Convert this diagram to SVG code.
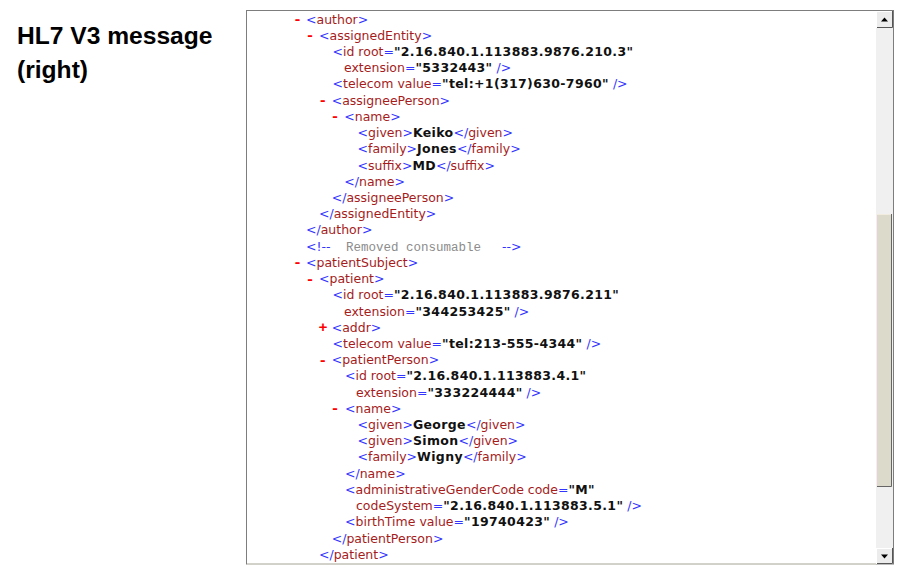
<svg xmlns="http://www.w3.org/2000/svg" width="900" height="573" viewBox="0 0 900 573">
<style>
.t{font-family:"Liberation Sans",Arial,sans-serif;font-weight:bold;font-size:24.6px;fill:#000}
.x{font-family:"DejaVu Sans",Verdana,sans-serif;font-size:12.5px;white-space:pre}
.b{fill:#3434ff}
.r{fill:#a51c1c}
.v{fill:#111;font-weight:bold;letter-spacing:0.35px}
.m{fill:#ff0000;font-family:"Liberation Mono","Courier New",monospace;font-weight:bold;font-size:15px;text-anchor:middle}
.c{fill:#8c8c8c;font-family:"Liberation Mono","Courier New",monospace;font-size:12.5px}
</style>
<rect width="900" height="573" fill="#fff"/>
<g id="title">
<text class="t" x="17" y="44">HL7 V3 message</text>
<text class="t" x="17" y="78">(right)</text>
</g>
<g id="panel">
<rect x="246.5" y="10.5" width="647" height="553.5" fill="#fff" stroke="#7d7d7d"/>
<line x1="247" y1="564" x2="876" y2="564" stroke="#e6e6d6"/>
<rect x="876" y="11" width="17" height="553" fill="#f0f0f0"/>
<g id="up">
<rect x="876.5" y="11.5" width="16" height="16" fill="#ececec" stroke="#ffffff"/>
<path d="M877 27.5H892.5V11" fill="none" stroke="#555"/>
<path d="M881 21.5L884.5 17.5L888 21.5Z" fill="#000"/>
</g>
<g id="thumb">
<rect x="877" y="214" width="15" height="273" fill="#dbdacb"/>
<line x1="877.5" y1="214" x2="877.5" y2="486" stroke="#e6d2d2"/>
<line x1="877" y1="214.5" x2="892" y2="214.5" stroke="#f2ebe0"/>
<path d="M877 486.5H891.5V214" fill="none" stroke="#666"/>
</g>
<g id="down">
<rect x="876.5" y="548.5" width="16" height="15" fill="#ececec" stroke="#ffffff"/>
<path d="M877 563.5H892.5V548" fill="none" stroke="#555"/>
<path d="M881 554.5L884.5 558.5L888 554.5Z" fill="#000"/>
</g>
</g>
<g id="xml" class="x">
<text class="m" x="297.5" y="24">-</text>
<text x="306" y="23.5"><tspan class="b">&lt;</tspan><tspan class="r">author</tspan><tspan class="b">&gt;</tspan></text>
<text class="m" x="310" y="40.2">-</text>
<text x="319" y="39.7"><tspan class="b">&lt;</tspan><tspan class="r">assignedEntity</tspan><tspan class="b">&gt;</tspan></text>
<text x="332.5" y="55.9"><tspan class="b">&lt;</tspan><tspan class="r">id root</tspan><tspan class="b">=</tspan><tspan class="v">"2.16.840.1.113883.9876.210.3"</tspan></text>
<text x="344" y="72.2"><tspan class="r">extension</tspan><tspan class="b">=</tspan><tspan class="v">"5332443"</tspan><tspan class="b"> /&gt;</tspan></text>
<text x="332.5" y="88.4"><tspan class="b">&lt;</tspan><tspan class="r">telecom value</tspan><tspan class="b">=</tspan><tspan class="v">"tel:+1(317)630-7960"</tspan><tspan class="b"> /&gt;</tspan></text>
<text class="m" x="322.7" y="105.1">-</text>
<text x="331.7" y="104.6"><tspan class="b">&lt;</tspan><tspan class="r">assigneePerson</tspan><tspan class="b">&gt;</tspan></text>
<text class="m" x="335" y="121.3">-</text>
<text x="344.3" y="120.8"><tspan class="b">&lt;</tspan><tspan class="r">name</tspan><tspan class="b">&gt;</tspan></text>
<text x="357.5" y="137"><tspan class="b">&lt;</tspan><tspan class="r">given</tspan><tspan class="b">&gt;</tspan><tspan class="v">Keiko</tspan><tspan class="b">&lt;/</tspan><tspan class="r">given</tspan><tspan class="b">&gt;</tspan></text>
<text x="357.5" y="153.3"><tspan class="b">&lt;</tspan><tspan class="r">family</tspan><tspan class="b">&gt;</tspan><tspan class="v">Jones</tspan><tspan class="b">&lt;/</tspan><tspan class="r">family</tspan><tspan class="b">&gt;</tspan></text>
<text x="357.5" y="169.5"><tspan class="b">&lt;</tspan><tspan class="r">suffix</tspan><tspan class="b">&gt;</tspan><tspan class="v">MD</tspan><tspan class="b">&lt;/</tspan><tspan class="r">suffix</tspan><tspan class="b">&gt;</tspan></text>
<text x="344.3" y="185.7"><tspan class="b">&lt;/</tspan><tspan class="r">name</tspan><tspan class="b">&gt;</tspan></text>
<text x="331.7" y="201.9"><tspan class="b">&lt;/</tspan><tspan class="r">assigneePerson</tspan><tspan class="b">&gt;</tspan></text>
<text x="319" y="218.1"><tspan class="b">&lt;/</tspan><tspan class="r">assignedEntity</tspan><tspan class="b">&gt;</tspan></text>
<text x="306" y="234.4"><tspan class="b">&lt;/</tspan><tspan class="r">author</tspan><tspan class="b">&gt;</tspan></text>
<text x="306" y="250.6"><tspan class="b">&lt;!--</tspan><tspan class="c" x="346">Removed consumable</tspan><tspan class="b" x="502">--&gt;</tspan></text>
<text class="m" x="297.5" y="267.3">-</text>
<text x="306" y="266.8"><tspan class="b">&lt;</tspan><tspan class="r">patientSubject</tspan><tspan class="b">&gt;</tspan></text>
<text class="m" x="310" y="283.5">-</text>
<text x="319" y="283"><tspan class="b">&lt;</tspan><tspan class="r">patient</tspan><tspan class="b">&gt;</tspan></text>
<text x="332.5" y="299.2"><tspan class="b">&lt;</tspan><tspan class="r">id root</tspan><tspan class="b">=</tspan><tspan class="v">"2.16.840.1.113883.9876.211"</tspan></text>
<text x="344" y="315.5"><tspan class="r">extension</tspan><tspan class="b">=</tspan><tspan class="v">"344253425"</tspan><tspan class="b"> /&gt;</tspan></text>
<text class="m" x="323" y="332.2">+</text>
<text x="331.7" y="331.7"><tspan class="b">&lt;</tspan><tspan class="r">addr</tspan><tspan class="b">&gt;</tspan></text>
<text x="332.5" y="347.9"><tspan class="b">&lt;</tspan><tspan class="r">telecom value</tspan><tspan class="b">=</tspan><tspan class="v">"tel:213-555-4344"</tspan><tspan class="b"> /&gt;</tspan></text>
<text class="m" x="322.7" y="364.6">-</text>
<text x="331.7" y="364.1"><tspan class="b">&lt;</tspan><tspan class="r">patientPerson</tspan><tspan class="b">&gt;</tspan></text>
<text x="345" y="380.3"><tspan class="b">&lt;</tspan><tspan class="r">id root</tspan><tspan class="b">=</tspan><tspan class="v">"2.16.840.1.113883.4.1"</tspan></text>
<text x="356" y="396.6"><tspan class="r">extension</tspan><tspan class="b">=</tspan><tspan class="v">"333224444"</tspan><tspan class="b"> /&gt;</tspan></text>
<text class="m" x="335" y="413.3">-</text>
<text x="345" y="412.8"><tspan class="b">&lt;</tspan><tspan class="r">name</tspan><tspan class="b">&gt;</tspan></text>
<text x="357.5" y="429"><tspan class="b">&lt;</tspan><tspan class="r">given</tspan><tspan class="b">&gt;</tspan><tspan class="v">George</tspan><tspan class="b">&lt;/</tspan><tspan class="r">given</tspan><tspan class="b">&gt;</tspan></text>
<text x="357.5" y="445.2"><tspan class="b">&lt;</tspan><tspan class="r">given</tspan><tspan class="b">&gt;</tspan><tspan class="v">Simon</tspan><tspan class="b">&lt;/</tspan><tspan class="r">given</tspan><tspan class="b">&gt;</tspan></text>
<text x="357.5" y="461.4"><tspan class="b">&lt;</tspan><tspan class="r">family</tspan><tspan class="b">&gt;</tspan><tspan class="v">Wigny</tspan><tspan class="b">&lt;/</tspan><tspan class="r">family</tspan><tspan class="b">&gt;</tspan></text>
<text x="345" y="477.7"><tspan class="b">&lt;/</tspan><tspan class="r">name</tspan><tspan class="b">&gt;</tspan></text>
<text x="345" y="493.9"><tspan class="b">&lt;</tspan><tspan class="r">administrativeGenderCode code</tspan><tspan class="b">=</tspan><tspan class="v">"M"</tspan></text>
<text x="356" y="510.1"><tspan class="r">codeSystem</tspan><tspan class="b">=</tspan><tspan class="v">"2.16.840.1.113883.5.1"</tspan><tspan class="b"> /&gt;</tspan></text>
<text x="345" y="526.3"><tspan class="b">&lt;</tspan><tspan class="r">birthTime value</tspan><tspan class="b">=</tspan><tspan class="v">"19740423"</tspan><tspan class="b"> /&gt;</tspan></text>
<text x="331.7" y="542.5"><tspan class="b">&lt;/</tspan><tspan class="r">patientPerson</tspan><tspan class="b">&gt;</tspan></text>
<text x="319" y="558.8"><tspan class="b">&lt;/</tspan><tspan class="r">patient</tspan><tspan class="b">&gt;</tspan></text>
</g>
</svg>
